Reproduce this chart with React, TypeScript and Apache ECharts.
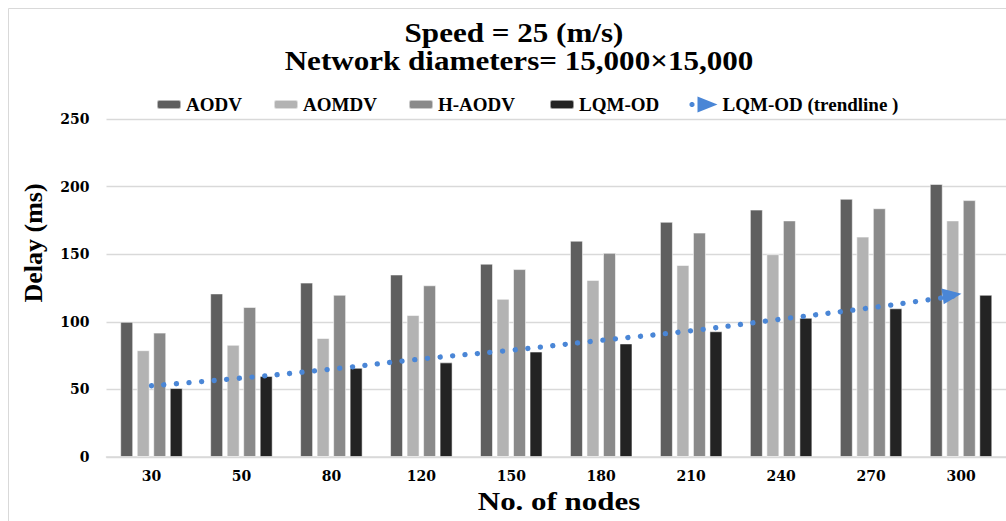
import React, { useEffect, useRef } from "react";
import * as echarts from "echarts";

const categories = ["30", "50", "80", "120", "150", "180", "210", "240", "270", "300"];
const aodv = [100, 121, 129, 135, 143, 160, 174, 183, 191, 202];
const aomdv = [79, 83, 88, 105, 117, 131, 142, 150, 163, 175];
const haodv = [92, 111, 120, 127, 139, 151, 166, 175, 184, 190];
const lqmod = [51, 60, 66, 70, 78, 84, 93, 103, 110, 120];
const lqmodTrend = [52.7, 58.4, 65, 72.5, 79, 86.3, 93.4, 102, 110.4, 119.8];
const yTicks = { min: 0, max: 250, interval: 50 };

const SERIF = '"Liberation Serif", "Times New Roman", serif';
const TICK = '"DejaVu Serif", serif';
const BLUE = "#4a86d6";
const ARROW = "path://M0,0L20,8L0,16Z";
const TREND_ICON =
  "path://M1.5,5.5L3.5,5.5L5,7L5,9L3.5,10.5L1.5,10.5L0,9L0,7ZM8,0L28,8L8,16Z";

export default function App() {
  const ref = useRef<HTMLDivElement>(null);
  useEffect(() => {
    document.body.style.margin = "0";
    const chart = echarts.init(ref.current!, null, { renderer: "svg" });
    const legendText = { fontFamily: SERIF, fontWeight: "bold" as const, fontSize: 19, color: "#000" };
    const mkLegend = (name: string, left: number, extra: any = {}) => ({
      data: [name],
      left,
      top: 95,
      padding: 0,
      itemWidth: 24,
      itemHeight: 9,
      selectedMode: false,
      textStyle: legendText,
      ...extra,
    });
    const barStyle = (color: string) => ({
      color,
      borderColor: "rgba(255,255,255,0.55)",
      borderWidth: 1,
    });
    const trendData: any[] = lqmodTrend.map((v, i) =>
      i === lqmodTrend.length - 1
        ? { value: v, symbol: ARROW, symbolSize: [19, 16], symbolOffset: [-9, 0], symbolRotate: 8 }
        : v
    );
    chart.setOption({
      animation: false,
      backgroundColor: "#fff",
      graphic: [
        {
          type: "rect",
          z: -10,
          shape: { x: 8.5, y: 8.5, width: 1100, height: 600 },
          style: { fill: "none", stroke: "#d9d9d9", lineWidth: 1 },
        },
        {
          type: "text",
          x: 514,
          y: 32.5,
          scaleX: 1.11,
          style: {
            text: "Speed = 25 (m/s)",
            font: `bold 28px ${SERIF}`,
            fill: "#000",
            textAlign: "center",
            textVerticalAlign: "middle",
          },
        },
        {
          type: "text",
          x: 519,
          y: 61,
          scaleX: 1.11,
          style: {
            text: "Network diameters= 15,000×15,000",
            font: `bold 28px ${SERIF}`,
            fill: "#000",
            textAlign: "center",
            textVerticalAlign: "middle",
          },
        },
        {
          type: "text",
          x: 33,
          y: 243,
          rotation: Math.PI / 2,
          style: {
            text: "Delay (ms)",
            font: `bold 26px ${SERIF}`,
            fill: "#000",
            textAlign: "center",
            textVerticalAlign: "middle",
          },
        },
        {
          type: "text",
          x: 559,
          y: 501,
          scaleX: 1.19,
          style: {
            text: "No. of nodes",
            font: `bold 26px ${SERIF}`,
            fill: "#000",
            textAlign: "center",
            textVerticalAlign: "middle",
          },
        },
      ],
      legend: [
        mkLegend("AODV", 156),
        mkLegend("AOMDV", 273),
        mkLegend("H-AODV", 408),
        mkLegend("LQM-OD", 549),
        {
          ...mkLegend("LQM-OD (trendline )", 689.5),
          itemWidth: 28,
          itemHeight: 16,
          data: [{ name: "LQM-OD (trendline )", icon: TREND_ICON }],
        },
      ],
      grid: { left: 106.5, top: 119, width: 902, height: 338, containLabel: false },
      xAxis: {
        type: "category",
        data: categories,
        axisLine: { lineStyle: { color: "#d9d9d9", width: 1.5 } },
        axisTick: { show: false },
        axisLabel: { margin: 12, fontFamily: TICK, fontWeight: "bold", fontSize: 14, color: "#000" },
      },
      yAxis: {
        type: "value",
        min: yTicks.min,
        max: yTicks.max,
        interval: yTicks.interval,
        axisLine: { show: false },
        axisTick: { show: false },
        splitLine: { lineStyle: { color: "#d9d9d9", width: 1.3 } },
        axisLabel: { margin: 17, fontFamily: TICK, fontWeight: "bold", fontSize: 14, color: "#000" },
      },
      series: [
        { name: "AODV", type: "bar", data: aodv, barWidth: 13, barGap: "27%", itemStyle: barStyle("#5f5f5f") },
        { name: "AOMDV", type: "bar", data: aomdv, barWidth: 13, barGap: "27%", itemStyle: barStyle("#b3b3b3") },
        { name: "H-AODV", type: "bar", data: haodv, barWidth: 13, barGap: "27%", itemStyle: barStyle("#8a8a8a") },
        { name: "LQM-OD", type: "bar", data: lqmod, barWidth: 13, barGap: "27%", itemStyle: barStyle("#232323") },
        {
          name: "LQM-OD (trendline )",
          type: "line",
          data: trendData,
          smooth: true,
          symbol: "circle",
          symbolSize: 0,
          showAllSymbol: true,
          z: 5,
          itemStyle: { color: BLUE },
          lineStyle: { color: BLUE, width: 5.3, type: [0.1, 12.5], cap: "round" },
        },
      ],
    });
    return () => chart.dispose();
  }, []);
  return <div ref={ref} style={{ width: 1006, height: 521 }} />;
}
